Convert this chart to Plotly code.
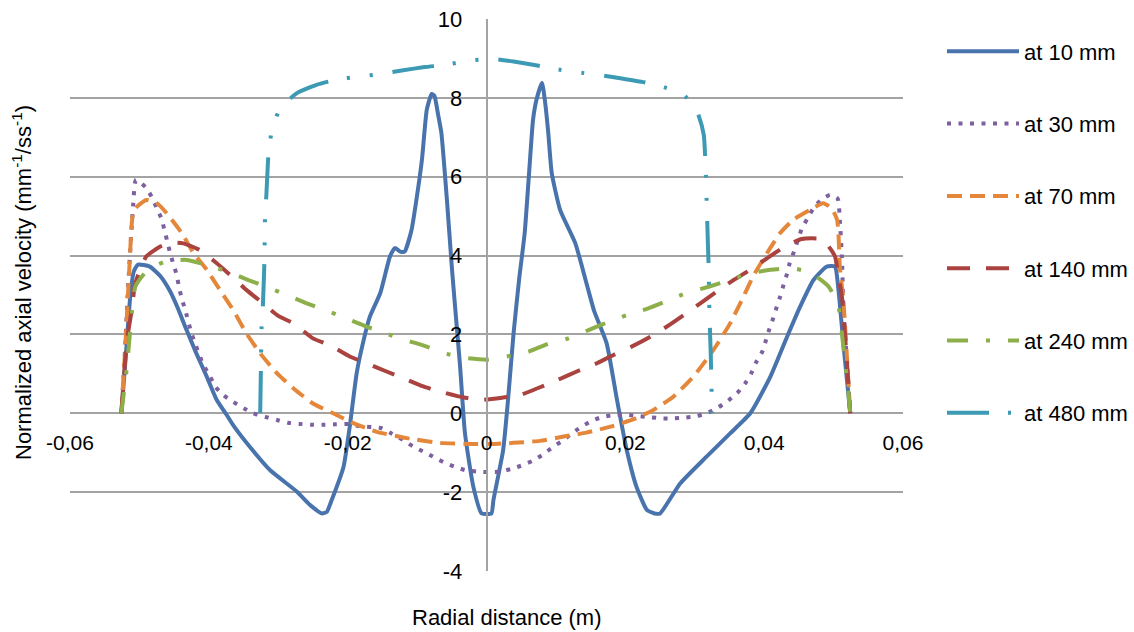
import plotly.graph_objects as go

# Radial profiles of normalized axial velocity at several axial stations
r_10 = [-0.0526, -0.0519, -0.0513, -0.0508, -0.0502, -0.0485, -0.0470, -0.0456, -0.0446, -0.0432,
        -0.0418, -0.0403, -0.0389, -0.0374, -0.0365, -0.0341, -0.0312, -0.0273, -0.0254, -0.0237,
        -0.0230, -0.0223, -0.0206, -0.0197, -0.0187, -0.0178, -0.0168, -0.0153, -0.0139, -0.0132,
        -0.0124, -0.0118, -0.0108, -0.0101, -0.0093, -0.0086, -0.0079, -0.0075, -0.0070, -0.0065,
        -0.0057, -0.0050, -0.0045, -0.0038, -0.0031, -0.0019, -0.0007, 0.0007, 0.0010, 0.0024,
        0.0031, 0.0039, 0.0047, 0.0055, 0.0063, 0.0067, 0.0072, 0.0080, 0.0084, 0.0089,
        0.0094, 0.0106, 0.0128, 0.0144, 0.0155, 0.0173, 0.0188, 0.0202, 0.0216, 0.0231,
        0.0242, 0.0250, 0.0279, 0.0317, 0.0351, 0.0380, 0.0409, 0.0433, 0.0452, 0.0471,
        0.0490, 0.0502, 0.0507, 0.0515, 0.0524]
v_10 = [0.0, 1.6, 3.0, 3.6, 3.77, 3.72, 3.48, 3.10, 2.72, 2.11,
        1.52, 0.93, 0.35, -0.05, -0.30, -0.85, -1.44, -1.99, -2.33, -2.54,
        -2.50, -2.20, -1.36, -0.34, 1.02, 1.78, 2.45, 3.05, 3.98, 4.19,
        4.10, 4.10, 4.65, 5.41, 6.43, 7.70, 8.10, 8.05, 7.60, 7.11,
        5.41, 3.72, 2.65, 1.18, -0.51, -1.86, -2.54, -2.54, -2.20, -0.93,
        0.34, 2.03, 3.40, 4.57, 6.51, 7.44, 7.95, 8.38, 7.95, 7.11,
        6.09, 5.16, 4.31, 3.30, 2.60, 1.78, 0.34, -0.93, -1.86, -2.45,
        -2.54, -2.54, -1.78, -1.10, -0.51, 0.0, 0.93, 1.94, 2.71, 3.38,
        3.72, 3.72, 3.13, 1.60, 0.0]

r_30 = [-0.0526, -0.0521, -0.0517, -0.0513, -0.0509, -0.0505, -0.0491, -0.0482, -0.0475, -0.0468,
        -0.0464, -0.0460, -0.0456, -0.0451, -0.0446, -0.0443, -0.0439, -0.0434, -0.0425, -0.0408,
        -0.0398, -0.0391, -0.0379, -0.0365, -0.0350, -0.0336, -0.0319, -0.0302, -0.0286, -0.0269,
        -0.0252, -0.0235, -0.0218, -0.0201, -0.0185, -0.0151, -0.0137, -0.0120, -0.0105, -0.0091,
        -0.0077, -0.0062, -0.0045, -0.0031, -0.0014, 0.0003, 0.0019, 0.0036, 0.0053, 0.0067,
        0.0082, 0.0096, 0.0111, 0.0123, 0.0137, 0.0154, 0.0168, 0.0185, 0.0202, 0.0219,
        0.0236, 0.0252, 0.0269, 0.0286, 0.0303, 0.0320, 0.0334, 0.0348, 0.0361, 0.0372,
        0.0381, 0.0388, 0.0397, 0.0402, 0.0407, 0.0413, 0.0418, 0.0423, 0.0428, 0.0433,
        0.0437, 0.0443, 0.0454, 0.0462, 0.0471, 0.0482, 0.0495, 0.0506, 0.0509, 0.0512,
        0.0514, 0.0524]
v_30 = [0.0, 1.5, 3.0, 4.2, 5.3, 5.92, 5.73, 5.48, 5.20, 4.93,
        4.65, 4.37, 4.08, 3.78, 3.49, 3.20, 2.91, 2.62, 2.03, 1.23,
        0.93, 0.68, 0.46, 0.29, 0.13, 0.0, -0.09, -0.17, -0.24, -0.27,
        -0.29, -0.29, -0.28, -0.27, -0.32, -0.38, -0.51, -0.68, -0.85, -0.97,
        -1.10, -1.24, -1.36, -1.44, -1.48, -1.49, -1.48, -1.41, -1.31, -1.20,
        -1.04, -0.85, -0.68, -0.51, -0.34, -0.17, -0.09, -0.04, -0.04, -0.07,
        -0.10, -0.13, -0.13, -0.11, -0.07, 0.02, 0.15, 0.32, 0.51, 0.74,
        1.00, 1.28, 1.55, 1.82, 2.11, 2.41, 2.69, 2.96, 3.26, 3.54,
        3.82, 4.10, 4.67, 4.93, 5.20, 5.41, 5.54, 5.44, 4.90, 3.97,
        2.79, 0.0]

r_70 = [-0.0526, -0.0520, -0.0515, -0.0510, -0.0506, -0.0490, -0.0475, -0.0461, -0.0439, -0.0422,
        -0.0403, -0.0384, -0.0365, -0.0346, -0.0326, -0.0302, -0.0278, -0.0250, -0.0221, -0.0192,
        -0.0158, -0.0115, -0.0067, -0.0019, 0.0009, 0.0039, 0.0077, 0.0111, 0.0144, 0.0183,
        0.0212, 0.0240, 0.0269, 0.0298, 0.0327, 0.0351, 0.0368, 0.0384, 0.0404, 0.0423,
        0.0442, 0.0466, 0.0485, 0.0497, 0.0505, 0.0507, 0.0509, 0.0514, 0.0524]
v_70 = [0.0, 1.8, 3.5, 4.99, 5.20, 5.41, 5.33, 5.08, 4.57, 4.06,
        3.64, 3.13, 2.62, 2.03, 1.52, 1.02, 0.63, 0.25, 0.0, -0.25,
        -0.47, -0.63, -0.75, -0.78, -0.78, -0.75, -0.70, -0.59, -0.49, -0.32,
        -0.15, 0.08, 0.42, 0.93, 1.61, 2.28, 2.88, 3.47, 4.06, 4.57,
        4.91, 5.16, 5.33, 5.20, 4.91, 4.57, 3.72, 2.88, 0.0]

r_140 = [-0.0526, -0.0518, -0.0511, -0.0507, -0.0502, -0.0490, -0.0470, -0.0455, -0.0437, -0.0413,
         -0.0389, -0.0367, -0.0346, -0.0322, -0.0300, -0.0278, -0.0250, -0.0226, -0.0197, -0.0173,
         -0.0144, -0.0120, -0.0091, -0.0067, -0.0033, -0.0009, 0.0024, 0.0048, 0.0077, 0.0103,
         0.0130, 0.0159, 0.0183, 0.0209, 0.0236, 0.0260, 0.0284, 0.0308, 0.0332, 0.0356,
         0.0380, 0.0404, 0.0430, 0.0454, 0.0483, 0.0493, 0.0502, 0.0507, 0.0512, 0.0519,
         0.0524]
v_140 = [0.0, 1.86, 2.62, 3.20, 3.50, 3.98, 4.23, 4.33, 4.31, 4.14,
         3.81, 3.47, 3.13, 2.79, 2.47, 2.28, 1.90, 1.73, 1.44, 1.27,
         1.06, 0.89, 0.68, 0.55, 0.40, 0.34, 0.40, 0.46, 0.66, 0.85,
         1.06, 1.27, 1.48, 1.69, 1.94, 2.20, 2.49, 2.79, 3.09, 3.38,
         3.64, 3.93, 4.23, 4.42, 4.42, 4.23, 3.98, 3.47, 2.96, 1.35,
         0.0]

r_240 = [-0.0526, -0.0518, -0.0511, -0.0506, -0.0490, -0.0463, -0.0432, -0.0403, -0.0374, -0.0343,
         -0.0317, -0.0288, -0.0259, -0.0233, -0.0204, -0.0173, -0.0146, -0.0117, -0.0086, -0.0060,
         -0.0029, 0.0002, 0.0029, 0.0060, 0.0091, 0.0118, 0.0147, 0.0176, 0.0202, 0.0233,
         0.0264, 0.0288, 0.0320, 0.0351, 0.0377, 0.0409, 0.0440, 0.0466, 0.0493, 0.0507,
         0.0514, 0.0521, 0.0524]
v_240 = [0.0, 1.18, 2.54, 3.21, 3.60, 3.85, 3.89, 3.76, 3.60, 3.38,
         3.21, 3.00, 2.79, 2.62, 2.42, 2.20, 2.03, 1.86, 1.69, 1.52,
         1.40, 1.36, 1.44, 1.56, 1.78, 1.90, 2.11, 2.32, 2.49, 2.66,
         2.88, 3.05, 3.21, 3.38, 3.54, 3.64, 3.68, 3.57, 3.21, 2.71,
         1.69, 0.59, 0.0]

r_480 = [-0.0326, -0.0325, -0.0324, -0.0322, -0.0320, -0.0319, -0.0317, -0.0314, -0.0309, -0.0297,
         -0.0273, -0.0245, -0.0216, -0.0184, -0.0151, -0.0120, -0.0089, -0.0058, -0.0027, 0.0006,
         0.0039, 0.0067, 0.0096, 0.0130, 0.0163, 0.0195, 0.0226, 0.0252, 0.0284, 0.0304,
         0.0313, 0.0315, 0.0316, 0.0317, 0.0318, 0.0319, 0.0320, 0.0321, 0.0322, 0.0323,
         0.0325]
v_480 = [0.0, 1.10, 2.20, 2.79, 3.81, 4.99, 5.58, 6.60, 7.19, 7.74,
         8.12, 8.33, 8.46, 8.54, 8.61, 8.70, 8.78, 8.84, 8.94, 8.99,
         8.92, 8.84, 8.74, 8.65, 8.58, 8.49, 8.40, 8.29, 8.08, 7.63,
         7.06, 6.51, 6.05, 5.46, 4.86, 4.27, 3.72, 2.66, 2.07, 1.52,
         0.0]

series_names = ["at 10 mm", "at 30 mm", "at 70 mm", "at 140 mm", "at 240 mm", "at 480 mm"]
x_ticks = [-0.06, -0.04, -0.02, 0, 0.02, 0.04, 0.06]
x_tick_text = ["-0,06", "-0,04", "-0,02", "0", "0,02", "0,04", "0,06"]
y_ticks = [-4, -2, 0, 2, 4, 6, 8, 10]
y_tick_text = ["-4", "-2", "0", "2", "4", "6", "8", "10"]

styles = [
    ("#4873AC", "solid"),
    ("#7D60A0", "4px,7.5px"),
    ("#E5873B", "15px,8px"),
    ("#AA423F", "23px,16px"),
    ("#8DAF4A", "21px,18px,4px,18px"),
    ("#3D9AB4", "42px,19px,3px,20px,3px,20px"),
]

profiles = [(r_10, v_10), (r_30, v_30), (r_70, v_70), (r_140, v_140), (r_240, v_240), (r_480, v_480)]

FONT = "Liberation Sans, Arial, sans-serif"

fig = go.Figure()
for (r, v), name, (color, dash) in zip(profiles, series_names, styles):
    fig.add_trace(go.Scatter(
        x=r, y=v, mode="lines", name=name, legendgroup=name,
        line=dict(color=color, width=4, dash=dash, shape="spline", smoothing=0.5),
    ))

fig.update_layout(
    width=1134, height=632,
    margin=dict(l=70, r=231, t=19, b=61, autoexpand=False),
    paper_bgcolor="white", plot_bgcolor="white",
    font=dict(family=FONT, size=21, color="#000000"),
    showlegend=True,
    legend=dict(
        x=(942 - 70) / 833, xanchor="left", y=0.9792, yanchor="top",
        font=dict(family=FONT, size=22, color="#000000"),
        itemwidth=72, tracegroupgap=40.7,
        bgcolor="rgba(0,0,0,0)",
    ),
    xaxis=dict(
        range=[-0.06, 0.06], showgrid=False, zeroline=False, showline=False,
        tickvals=x_ticks, ticktext=x_tick_text, ticks="",
        anchor="free", position=4 / 14, ticklabelstandoff=15,
        tickfont=dict(family=FONT, size=21, color="#000000"),
    ),
    yaxis=dict(
        range=[-4, 10], showgrid=True, gridcolor="#A3A3A3", gridwidth=1.5,
        zeroline=False, showline=True, linecolor="#A3A3A3", linewidth=1.5,
        tickvals=y_ticks, ticktext=y_tick_text, ticks="",
        anchor="free", position=0.5, ticklabelstandoff=19,
        tickfont=dict(family=FONT, size=22, color="#000000"),
    ),
    annotations=[
        dict(text="Radial distance (m)", xref="paper", yref="paper",
             x=(507 - 70) / 833, y=(571 - 617) / 552, showarrow=False,
             xanchor="center", yanchor="middle",
             font=dict(family=FONT, size=22, color="#000000")),
        dict(text="Normalized axial velocity (mm<sup>-1</sup>/ss<sup>-1</sup>)",
             xref="paper", yref="paper",
             x=(22 - 70) / 833, y=(571 - 283) / 552, showarrow=False, textangle=-90,
             xanchor="center", yanchor="middle",
             font=dict(family=FONT, size=22, color="#000000")),
    ],
)

fig.write_html("out.html")
